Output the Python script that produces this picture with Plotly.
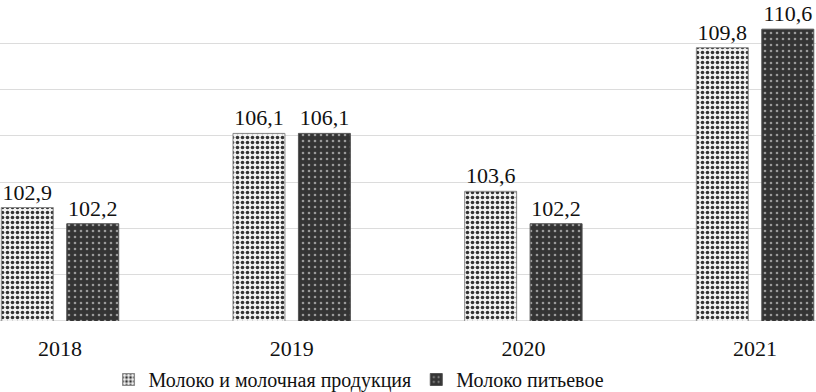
import plotly.graph_objects as go

years = ["2018", "2019", "2020", "2021"]
milk_products = [102.9, 106.1, 103.6, 109.8]
drinking_milk = [102.2, 106.1, 102.2, 110.6]
series_names = ["Молоко и молочная продукция", "Молоко питьевое"]

def fmt(vals):
    return [f"{v:.1f}".replace(".", ",") for v in vals]

FONT = "Liberation Serif"

fig = go.Figure()
fig.add_trace(go.Bar(
    x=years, y=milk_products, name=series_names[0],
    text=fmt(milk_products), textposition="outside", cliponaxis=False,
    textfont=dict(family=FONT, size=22, color="#111"),
    marker=dict(color="#ffffff",
                line=dict(color="#8a8a8a", width=1),
                pattern=dict(shape=".", bgcolor="#f2f2f2", fgcolor="#333333",
                             size=5, solidity=0.4, fillmode="replace")),
))
fig.add_trace(go.Bar(
    x=years, y=drinking_milk, name=series_names[1],
    text=fmt(drinking_milk), textposition="outside", cliponaxis=False,
    textfont=dict(family=FONT, size=22, color="#111"),
    marker=dict(color="#333333",
                line=dict(color="#555555", width=1),
                pattern=dict(shape=".", bgcolor="#343434", fgcolor="#9a9a9a",
                             size=6, solidity=0.15, fillmode="replace")),
))

fig.update_layout(
    width=816, height=392,
    margin=dict(l=0, r=0, t=0, b=71, autoexpand=False),
    plot_bgcolor="white", paper_bgcolor="white",
    barmode="group", bargap=0.435, bargroupgap=0.206,
    font=dict(family=FONT, size=20, color="#111"),
    showlegend=True,
    legend=dict(orientation="h", x=0.44, xanchor="center",
                y=-0.1215, yanchor="top", bgcolor="rgba(0,0,0,0)",
                font=dict(family=FONT, size=20), itemwidth=30, tracegroupgap=0),
    xaxis=dict(type="category", range=[-0.259, 3.263], showgrid=False,
               showline=False, ticks="", tickfont=dict(family=FONT, size=22),
               ticklabelstandoff=12),
    yaxis=dict(range=[98, 111.86], dtick=2, tick0=98, showgrid=True,
               gridcolor="#dcdcdc", gridwidth=1, showticklabels=False,
               zeroline=False, showline=False),
)
fig.add_shape(type="line", xref="paper", yref="y", x0=0, x1=1, y0=98, y1=98,
              line=dict(color="#d4d4d4", width=1.5), layer="below")

fig.write_html("out.html", config={"displayModeBar": False},
               post_script="document.body.style.margin='0';")
